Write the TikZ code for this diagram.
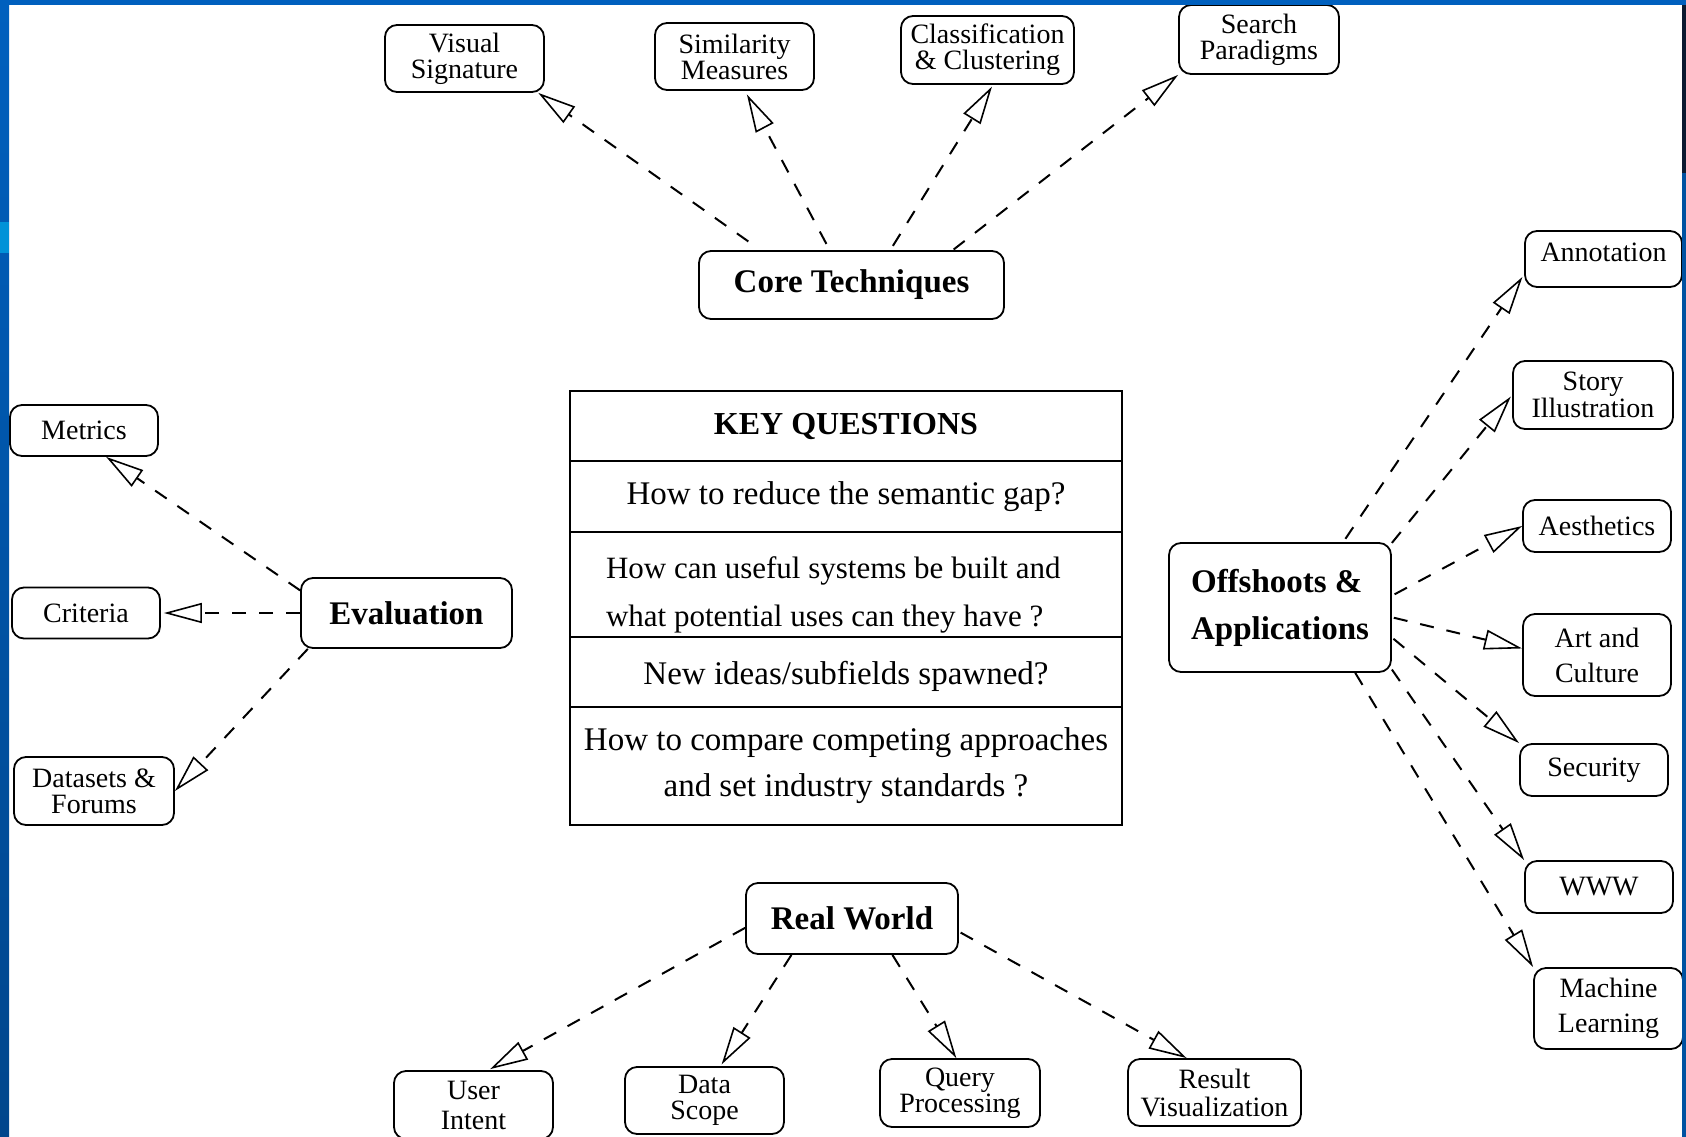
\documentclass[tikz,border=0pt]{standalone}
\usepackage{fontspec}
\setmainfont{Liberation Serif}
\usetikzlibrary{positioning,arrows.meta}

\definecolor{slideblue}{RGB}{0,96,190}
\definecolor{slidedark}{RGB}{0,70,140}
\definecolor{slidelight}{RGB}{0,146,216}
\definecolor{slidenavy}{RGB}{12,26,48}

\begin{document}
\begin{tikzpicture}[x=1pt,y=1pt,
	hub/.style={draw,line width=1.8pt,rounded corners=12pt,inner sep=2pt,font=\fontsize{33}{47}\selectfont\bfseries,align=center},
	leaf/.style={on grid,draw,line width=1.8pt,rounded corners=12pt,inner sep=2pt,minimum width=148pt,minimum height=51pt,font=\fontsize{28}{26}\selectfont,align=center},
	qrow/.style={draw,line width=1.8pt,outer sep=0pt,minimum width=552pt,font=\fontsize{33}{46}\selectfont,align=center},
	link/.style={line width=2pt,dash pattern=on 14pt off 13pt,-{Triangle[open,length=38pt,width=20pt,line width=1.6pt]}}]
	\useasboundingbox (0,0) rectangle (1686,-1137);
	%% hubs
	\node[hub,minimum width=305pt,minimum height=68pt] (c0) at (851.5,-285) {Core Techniques};
	\node[hub,minimum width=211pt,minimum height=70pt] (e0) at (406.5,-613) {Evaluation};
	\node[hub,minimum width=222pt,minimum height=129pt,align=left] (o0) at (1280,-607.5) {Offshoots \&\\Applications};
	\node[hub,minimum width=212pt,minimum height=71pt] (r0) at (852,-918.5) {Real World};
	%% key questions
	\node[qrow,minimum height=70pt,font=\fontsize{32}{35}\selectfont\bfseries] (q0) at (846,-426) {KEY QUESTIONS};
	\node[qrow,minimum height=71pt,below=0pt of q0] (q1) {How to reduce the semantic gap?};
	\node[qrow,minimum height=105pt,below=0pt of q1,font=\fontsize{31}{48}\selectfont,text width=480pt,align=flush left] (q2) {\rule{0pt}{42pt}How can useful systems be built and\\what potential uses can they have ?};
	\node[qrow,minimum height=70pt,below=0pt of q2] (q3) {\rule{0pt}{33pt}New ideas/subfields spawned?};
	\node[qrow,minimum height=118pt,below=0pt of q3] (q4) {How to compare competing approaches\\and set industry standards ?};
	%% core techniques
	\node[leaf,minimum width=159pt,minimum height=67pt,above left=226.5pt and 387pt of c0] (c1) {Visual\\Signature};
	\node[leaf,minimum width=159pt,minimum height=67pt,above left=228.5pt and 117pt of c0] (c2) {Similarity\\Measures};
	\node[leaf,minimum width=173pt,minimum height=68pt,above right=235pt and 136pt of c0] (c3) {Classification\\\& Clustering};
	\node[leaf,minimum width=160pt,minimum height=69pt,above right=245.5pt and 407.5pt of c0] (c4) {Search\\Paradigms};
	%% evaluation
	\node[leaf,above left=182.5pt and 322.5pt of e0] (e1) {Metrics};
	\node[leaf,left=320.5pt of e0] (e2) {Criteria};
	\node[leaf,minimum width=160pt,minimum height=68pt,below left=178pt and 312.5pt of e0] (e3) {Datasets \&\\Forums};
	%% offshoots
	\node[leaf,minimum width=157pt,minimum height=56pt,text depth=13pt,above right=348.5pt and 323.5pt of o0] (o1) {Annotation};
	\node[leaf,minimum width=160pt,minimum height=68pt,font=\fontsize{28}{24}\selectfont,above right=212.5pt and 313pt of o0] (o2) {Story\\Illustration};
	\node[leaf,minimum height=52pt,above right=81.5pt and 317pt of o0] (o3) {Aesthetics};
	\node[leaf,minimum height=82pt,font=\fontsize{28}{35}\selectfont,below right=47.5pt and 317pt of o0] (o4) {Art and\\Culture};
	\node[leaf,minimum height=52pt,below right=162.5pt and 314pt of o0] (o5) {Security};
	\node[leaf,minimum height=52pt,below right=279.5pt and 319pt of o0] (o6) {WWW};
	\node[leaf,minimum width=149pt,minimum height=81pt,font=\fontsize{28}{35}\selectfont,below right=401pt and 328.5pt of o0] (o7) {Machine\\Learning};
	%% real world
	\node[leaf,minimum width=159pt,minimum height=68pt,font=\fontsize{28}{30}\selectfont,below left=186.5pt and 378.5pt of r0] (r1) {User\\Intent};
	\node[leaf,minimum width=159pt,minimum height=67pt,below left=182pt and 147.5pt of r0] (r2) {Data\\Scope};
	\node[leaf,minimum width=160pt,minimum height=68pt,below right=174.5pt and 108pt of r0] (r3) {Query\\Processing};
	\node[leaf,minimum width=173pt,minimum height=67pt,font=\fontsize{28}{28}\selectfont,below right=174pt and 362.5pt of r0] (r4) {Result\\Visualization};
	% dashed links
	\draw[link,shorten <=15pt] (c0.159) -- (c1.-25);
	\draw[link,shorten <=7pt,shorten >=4pt] (c0.122) -- (c2.-73);
	\draw[link,shorten <=5pt,shorten >=2pt] (c0.42) -- (c3.-81);
	\draw[link,shorten <=1pt] (c0.19) -- (c4.south west);
	\draw[link] (e0.168) -- (e1.-50);
	\draw[link,shorten >=3pt] (e0.west) -- (e2.east);
	\draw[link] (e0.200) -- (e3.east);
	\draw[link,shorten <=4pt,shorten >=3pt] (o0.46) -- (o1.191);
	\draw[link,shorten >=2pt] (o0.30) -- (o2.west);
	\draw[link,shorten <=3pt] (o0.6) -- (o3.west);
	\draw[link,shorten <=2pt] (o0.-5) -- (o4.175);
	\draw[link,shorten <=2pt] (o0.-15) -- (o5.north west);
	\draw[link] (o0.-29) -- (o6.north west);
	\draw[link] (o0.-41) -- (o7.north west);
	\draw[link,shorten >=2pt] (r0.185) -- (r1.67);
	\draw[link,shorten >=2pt] (r0.211) -- (r2.65);
	\draw[link] (r0.-42) -- (r3.96);
	\draw[link,shorten <=2pt] (r0.-7) -- (r4.129);
	% slide frame
	\fill[slideblue] (0,0) rectangle (1686,-5);
	\shade[top color=slideblue,bottom color=slidedark] (0,0) rectangle (9,-1137);
	\fill[slidelight] (0,-222) rectangle (9,-253);
	\fill[slidenavy] (1682,-5) rectangle (1686,-173);
	\fill[slideblue!85!black] (1682,-173) rectangle (1686,-1137);
\end{tikzpicture}
\end{document}
